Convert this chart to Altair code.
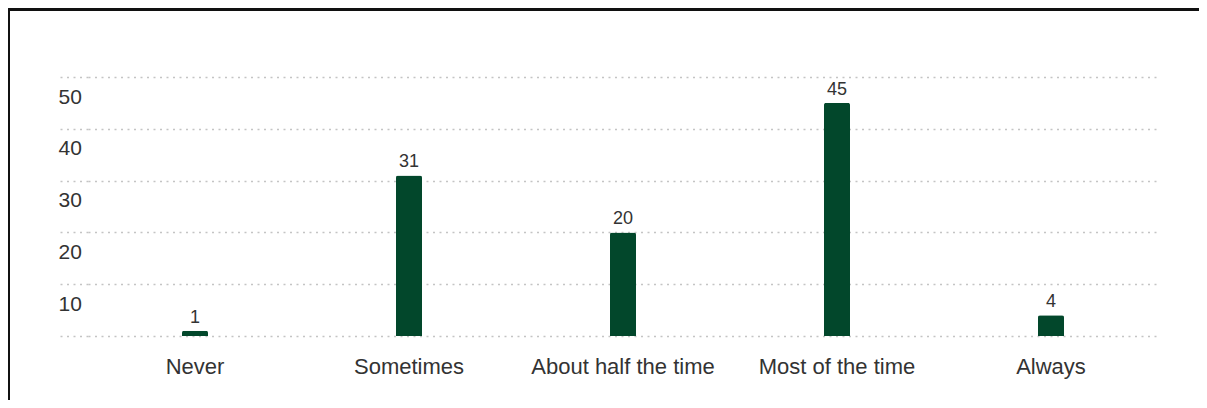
import altair as alt
import pandas as pd

categories = ["Never", "Sometimes", "About half the time", "Most of the time", "Always"]
counts = [1, 31, 20, 45, 4]
grid_values = [0, 10, 20, 30, 40, 50]

df = pd.DataFrame({"category": categories, "count": counts})

FONT = "Liberation Sans"
BAR = "#02472b"
GRID = "#c4c4c4"

x_enc = alt.X(
    "category:N",
    sort=categories,
    scale=alt.Scale(paddingInner=0, paddingOuter=0),
    axis=alt.Axis(
        title=None, labelAngle=0, domain=False, ticks=False,
        labelPadding=20, labelFontSize=22, labelColor="#333333",
        labelFont=FONT, grid=False, labelBaseline="top", labelLimit=400,
    ),
)
y_enc = alt.Y(
    "count:Q",
    scale=alt.Scale(domain=[0, 50], nice=False),
    axis=alt.Axis(
        title=None, values=grid_values, domain=False,
        grid=True, gridDash=[2, 4.5], gridColor=GRID, gridWidth=1.6,
        ticks=True, tickSize=30, tickDash=[2, 4.5], tickColor=GRID, tickWidth=1.6,
        labelAlign="left", labelBaseline="middle", labelPadding=0,
        labelOffset=20, labelFontSize=21, labelColor="#333333", labelFont=FONT,
        labelExpr="datum.value == 0 ? '' : datum.label",
        labelOverlap=False, labelBound=False,
    ),
)

bars = alt.Chart(df).mark_bar(
    size=26, color=BAR, cornerRadiusTopLeft=2, cornerRadiusTopRight=2
).encode(x=x_enc, y=y_enc)

labels = alt.Chart(df).mark_text(
    baseline="alphabetic", dy=-8, fontSize=18, color="#333333", font=FONT
).encode(x=alt.X("category:N", sort=categories), y="count:Q", text="count:Q")

top_border = alt.Chart(df).mark_rule(color="#111111", strokeWidth=2.5).encode(
    x=alt.value(-79), x2=alt.value(1200), y=alt.value(-67.5)
)
left_border = alt.Chart(df).mark_rule(color="#111111", strokeWidth=2).encode(
    x=alt.value(-79), y=alt.value(-68.5), y2=alt.value(340)
)

chart = alt.layer(bars, labels, top_border, left_border).properties(
    width=1070, height=259,
    autosize=alt.AutoSizeParams(type="none"),
    padding={"left": 80, "top": 69, "right": 41, "bottom": 64},
).configure(background="white").configure_view(stroke=None, strokeWidth=0)

chart.save("out.html", embed_options={"renderer": "svg", "actions": False})
